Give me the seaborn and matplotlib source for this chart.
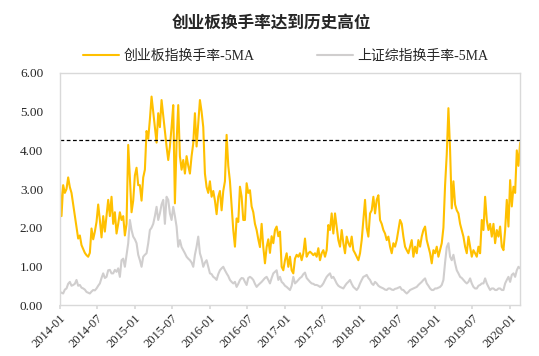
import matplotlib
matplotlib.use("Agg")
import matplotlib.pyplot as plt
import matplotlib.dates as mdates
import matplotlib.ticker as mticker
import pandas as pd
import seaborn as sns

TITLE = "创业板换手率达到历史高位"
CYB_LABEL = "创业板指换手率-5MA"
SH_LABEL = "上证综指换手率-5MA"
START, END = "2014-01-01", "2020-02-18"
HIGH_LINE = 4.27   # 历史高位参考线

# 创业板指换手率 (5日均), 约每8天一个点
CYB = [
    3.19, 2.3, 3.1, 2.9, 3.0, 3.3, 3.05, 2.9, 2.6, 2.3,
    2.0, 1.72, 1.8, 1.55, 1.45, 1.35, 1.29, 1.25, 1.35, 1.98,
    1.7, 1.9, 2.15, 2.6, 2.2, 1.75, 2.3, 1.9, 2.3, 2.72,
    2.3, 2.8, 2.1, 2.4, 1.85, 2.1, 2.4, 2.2, 2.3, 1.8,
    2.1, 4.14, 3.3, 2.4, 2.7, 3.35, 3.55, 3.1, 3.1, 2.7,
    3.3, 3.5, 4.5, 4.3, 4.8, 5.39, 5.0, 4.6, 4.2, 4.96,
    4.6, 5.3, 4.9, 4.5, 4.1, 3.75, 4.1, 4.6, 5.17, 2.63,
    4.2, 5.17, 3.85, 3.5, 3.75, 3.4, 3.85, 3.6, 3.4, 3.85,
    4.18, 4.96, 4.1, 4.7, 5.3, 5.0, 4.6, 3.4, 3.05, 2.9,
    3.2, 2.8, 2.95, 2.7, 2.35, 2.8, 2.95, 2.45, 2.95, 3.2,
    4.4, 3.6, 3.2, 2.55, 1.94, 1.51, 2.24, 2.15, 3.06, 2.8,
    2.2, 2.2, 3.15, 2.9, 2.97, 2.55, 2.4, 2.1, 1.94, 1.7,
    1.5, 2.1, 1.5, 1.08, 1.5, 1.7, 1.35, 1.78, 1.6, 1.94,
    2.03, 1.78,
    1.9, 0.99, 0.9, 1.16, 1.34, 0.99, 1.25, 0.9, 0.82, 1.2,
    1.3, 1.25, 1.34, 1.16, 1.34, 1.72, 1.25, 1.34, 1.38, 1.34,
    1.29, 1.34, 1.25, 1.47, 1.16, 1.34, 1.42, 1.25, 1.42, 2.07,
    1.94, 2.37, 1.85, 2.37, 2.03, 1.68, 1.51, 1.94, 1.6, 1.34,
    1.77, 1.6, 1.51, 1.77, 1.42, 1.34, 1.25, 1.16, 1.34, 1.68,
    2.2, 2.72, 2.0, 1.77, 2.37, 2.45, 2.8, 2.37, 2.72, 2.84,
    2.2, 2.1, 1.94, 1.85, 1.68, 1.77, 1.51, 1.34, 1.6, 1.51,
    1.68, 1.94, 2.2, 2.1, 1.77, 1.51, 1.42, 1.34, 1.51, 1.68,
    1.25, 1.51, 1.34, 1.68, 1.51, 1.77, 1.94, 2.03, 1.68, 1.51,
    1.34, 1.08, 1.42, 1.34, 1.51, 1.25, 1.42, 1.6, 2.0, 3.1,
    3.9, 5.09, 4.0, 2.5, 3.2, 2.6, 2.45, 2.37, 2.1, 1.94,
    1.77, 1.51, 1.34, 1.77, 1.51, 1.25, 1.42, 1.34, 1.25, 1.51,
    1.34, 2.2, 1.94, 2.8, 2.2, 1.94, 2.1, 1.77, 2.1, 1.6,
    1.94, 1.77, 2.03, 1.51, 1.42, 1.94, 2.72, 2.03, 3.23, 2.55,
    3.06, 2.9, 4.0, 3.6, 4.2,
]

# 上证综指换手率 (5日均)
SH = [
    0.34, 0.32, 0.3, 0.4, 0.43, 0.55, 0.6, 0.5, 0.52, 0.55,
    0.65, 0.5, 0.52, 0.45, 0.43, 0.4, 0.34, 0.32, 0.3, 0.35,
    0.39, 0.38, 0.43, 0.5, 0.56, 0.7, 0.82, 0.7, 0.73, 0.9,
    0.91, 0.82, 0.82, 0.91, 0.86, 0.95, 0.73, 1.16, 1.2, 0.99,
    1.3, 1.6, 2.2, 1.94, 1.77, 1.7, 1.6, 1.3, 1.16, 0.99,
    1.25, 1.3, 1.34, 1.6, 1.94, 2.0, 2.1, 2.3, 2.54, 2.2,
    2.37, 2.6, 2.72, 2.1, 2.8, 2.72, 2.37, 2.2, 2.54, 2.3,
    2.03, 1.51, 1.68, 1.5, 1.42, 1.34, 1.25, 1.2, 1.16, 1.1,
    0.99, 1.3, 1.51, 1.77, 1.34, 1.2, 0.99, 1.1, 1.16, 0.99,
    0.82, 0.8, 0.73, 0.7, 0.65, 0.8, 0.9, 0.95, 0.99, 0.9,
    0.82, 0.75, 0.65, 0.6, 0.56, 0.6, 0.47, 0.55, 0.65, 0.7,
    0.69, 0.6, 0.52, 0.7, 0.73, 0.7, 0.65, 0.55, 0.47, 0.52,
    0.56, 0.6, 0.65, 0.7, 0.73, 0.65, 0.56, 0.7, 0.82, 0.86,
    0.9, 0.65,
    0.73, 0.6, 0.56, 0.5, 0.47, 0.43, 0.39, 0.5, 0.73, 0.56,
    0.6, 0.65, 0.7, 0.73, 0.8, 0.84, 0.7, 0.65, 0.6, 0.56,
    0.55, 0.52, 0.52, 0.5, 0.47, 0.5, 0.56, 0.65, 0.73, 0.78,
    0.82, 0.7, 0.73, 0.65, 0.56, 0.5, 0.47, 0.45, 0.43, 0.5,
    0.56, 0.6, 0.65, 0.55, 0.47, 0.43, 0.39, 0.45, 0.56, 0.65,
    0.73, 0.75, 0.78, 0.7, 0.65, 0.56, 0.52, 0.6, 0.56, 0.5,
    0.47, 0.45, 0.43, 0.4, 0.39, 0.43, 0.43, 0.4, 0.39, 0.42,
    0.43, 0.45, 0.47, 0.4, 0.39, 0.34, 0.3, 0.34, 0.39, 0.41,
    0.43, 0.45, 0.47, 0.52, 0.56, 0.6, 0.65, 0.69, 0.56, 0.5,
    0.43, 0.39, 0.39, 0.43, 0.43, 0.45, 0.47, 0.52, 0.65, 1.1,
    1.5, 1.6, 1.25, 1.16, 1.3, 1.08, 0.9, 0.82, 0.73, 0.7,
    0.65, 0.6, 0.56, 0.6, 0.69, 0.56, 0.47, 0.43, 0.43, 0.5,
    0.52, 0.56, 0.56, 0.69, 0.56, 0.47, 0.39, 0.43, 0.43, 0.39,
    0.39, 0.43, 0.43, 0.39, 0.39, 0.56, 0.65, 0.73, 0.6, 0.78,
    0.82, 0.73, 0.9, 0.99, 0.95,
]

COLORS = {CYB_LABEL: "#FFC000", SH_LABEL: "#D0CECE"}

sns.set_theme(style="white")
plt.rcParams["font.family"] = ["Liberation Serif", "Noto Sans CJK SC"]
plt.rcParams["axes.unicode_minus"] = False

df = pd.concat([
    pd.DataFrame({"date": pd.date_range(START, END, periods=len(CYB)),
                  "value": CYB, "series": CYB_LABEL}),
    pd.DataFrame({"date": pd.date_range(START, END, periods=len(SH)),
                  "value": SH, "series": SH_LABEL}),
])

fig, ax = plt.subplots(figsize=(5.39, 3.56), dpi=100)
fig.subplots_adjust(left=0.111, right=0.965, bottom=0.143, top=0.795)

sns.lineplot(data=df, x="date", y="value", hue="series",
             hue_order=[CYB_LABEL, SH_LABEL], palette=COLORS,
             linewidth=1.5, ax=ax)
ax.axhline(HIGH_LINE, color="black", linestyle=(0, (3, 2)), linewidth=0.9)

ax.set_xlim(pd.Timestamp(START), pd.Timestamp(END))
ax.set_ylim(0, 6)
ax.yaxis.set_major_locator(mticker.MultipleLocator(1))
ax.yaxis.set_major_formatter(mticker.FormatStrFormatter("%.2f"))
ax.xaxis.set_major_locator(mdates.MonthLocator(bymonth=[1, 7]))
ax.xaxis.set_major_formatter(mdates.DateFormatter("%Y-%m"))
ax.set_xlabel("")
ax.set_ylabel("")

ax.tick_params(axis="x", bottom=True, length=3, color="#D9D9D9",
               labelsize=9, pad=2)
ax.tick_params(axis="y", left=False, labelsize=9.5, pad=6)
plt.setp(ax.get_xticklabels(), rotation=45, ha="right",
         rotation_mode="anchor")
for sp in ax.spines.values():
    sp.set_color("#D9D9D9")
    sp.set_linewidth(1)

ax.legend(ncol=2, loc="lower center", bbox_to_anchor=(0.49, 1.02),
          frameon=False, fontsize=10, handlelength=2.6,
          columnspacing=4.5, handletextpad=0.3, borderaxespad=0)

fig.text(0.503, 0.935, TITLE, ha="center", va="center", fontsize=12,
         fontweight="bold", family=["Noto Sans CJK SC"])

fig.savefig("out.png", dpi=100)
